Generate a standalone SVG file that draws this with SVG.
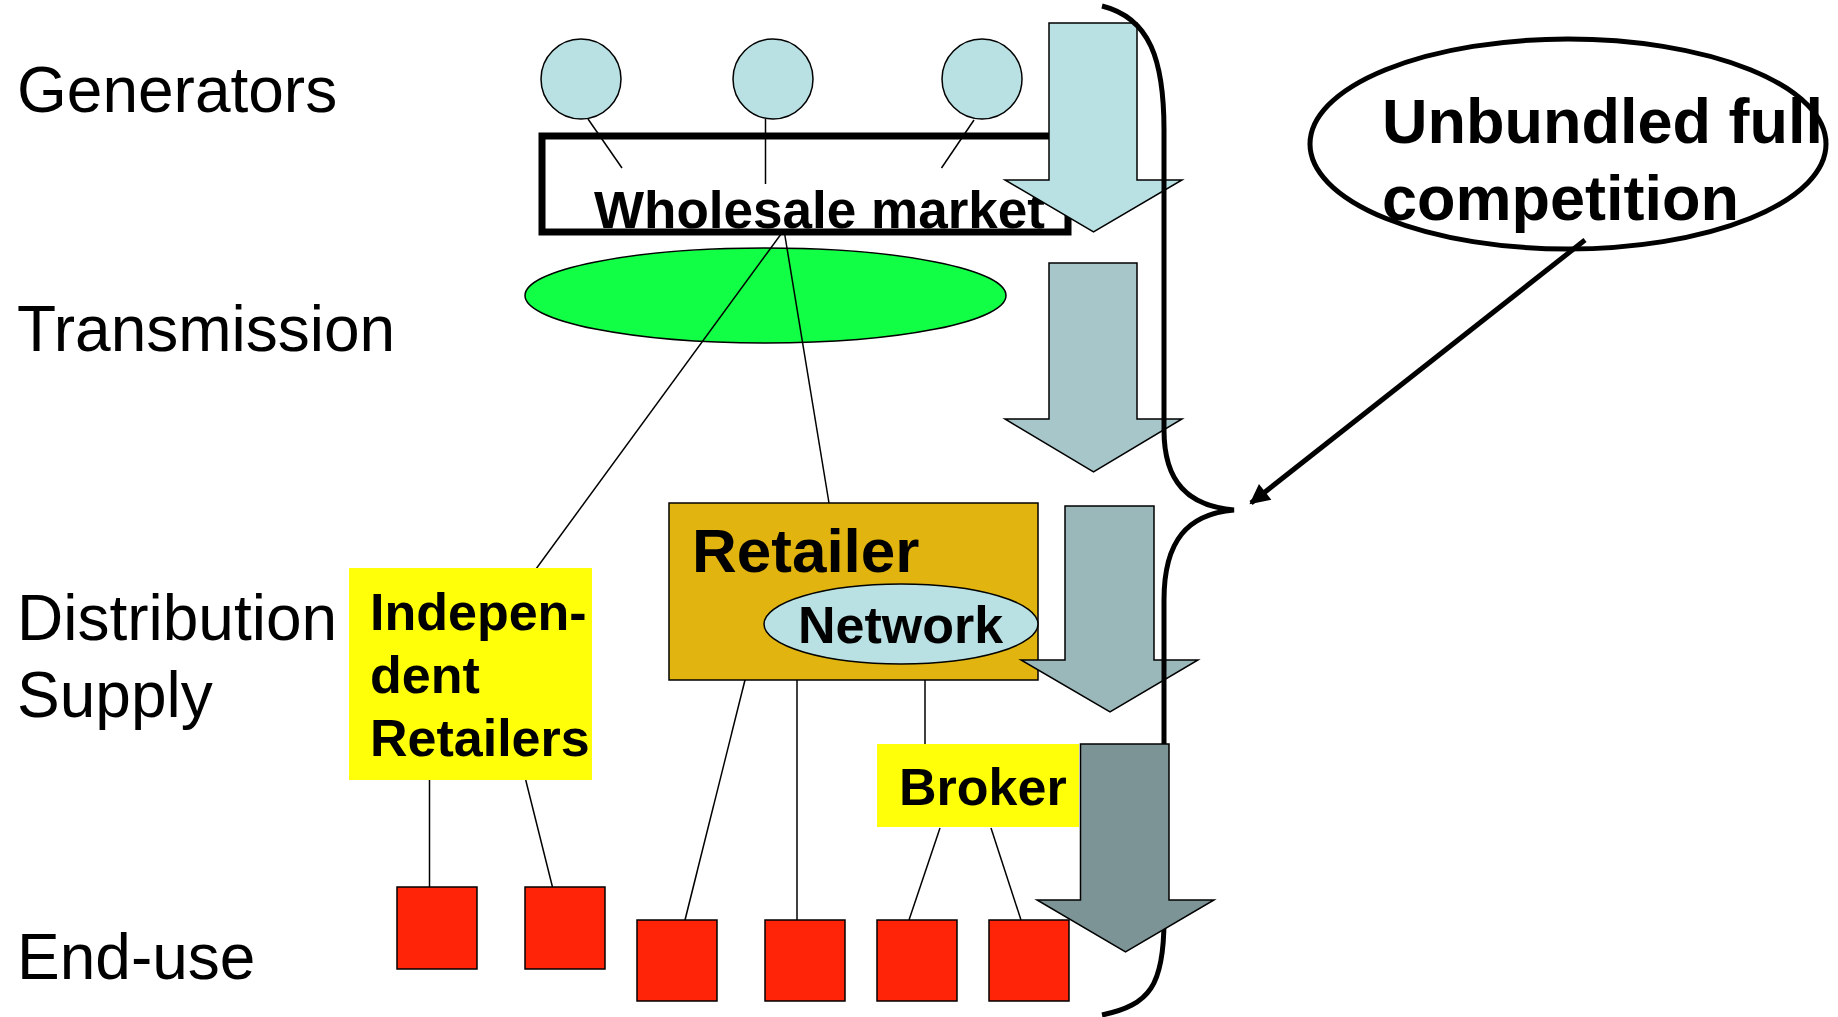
<svg xmlns="http://www.w3.org/2000/svg" width="1838" height="1017" viewBox="0 0 1838 1017">
<style>
.lbl{font-family:"Liberation Sans",Arial,sans-serif;font-size:64px;fill:#000}
.b{font-family:"Liberation Sans",Arial,sans-serif;font-weight:bold;fill:#000}
.ln{stroke:#000;stroke-width:1.5;fill:none}
.gen{fill:#b9e0e3;stroke:#000;stroke-width:1.5}
.eu{fill:#ff2308;stroke:#000;stroke-width:1.5}
.ylw{fill:#ffff0a}
.arr{stroke:#000;stroke-width:1.5}
</style>
<defs>
<marker id="ah" viewBox="0 0 10 10" refX="9" refY="5" markerWidth="4.5" markerHeight="4" orient="auto" markerUnits="strokeWidth">
<path d="M0,0 L10,5 L0,10 z" fill="#000"/>
</marker>
</defs>
<rect width="1838" height="1017" fill="#fff"/>
<g id="labels">
<text class="lbl" x="17" y="112">Generators</text>
<text class="lbl" x="17" y="351">Transmission</text>
<text class="lbl" x="17" y="640">Distribution</text>
<text class="lbl" x="17" y="717">Supply</text>
<text class="lbl" x="17" y="979">End-use</text>
</g>
<g id="transmission"><ellipse cx="765.5" cy="295.5" rx="240.5" ry="47.5" fill="#11ff44" stroke="#000" stroke-width="1.5"/></g>
<g id="connectors">
<line class="ln" x1="588" y1="119" x2="622" y2="168"/>
<line class="ln" x1="765.5" y1="119" x2="765.5" y2="184"/>
<line class="ln" x1="974" y1="120" x2="941.5" y2="168"/>
<line class="ln" x1="784" y1="230" x2="525" y2="584"/>
<line class="ln" x1="784" y1="230" x2="829" y2="503"/>
<line class="ln" x1="749" y1="664" x2="685" y2="920"/>
<line class="ln" x1="797" y1="680" x2="797" y2="920"/>
<line class="ln" x1="925" y1="664" x2="925" y2="744"/>
<line class="ln" x1="429.5" y1="780" x2="429.5" y2="887"/>
<line class="ln" x1="525.7" y1="780" x2="557" y2="905"/>
<line class="ln" x1="940" y1="828" x2="909" y2="920"/>
<line class="ln" x1="991" y1="828" x2="1021" y2="920"/>
</g>
<g id="wholesale">
<rect x="542" y="136" width="526" height="96" fill="none" stroke="#000" stroke-width="7"/>
<text class="b" x="594" y="228" font-size="51" textLength="451" lengthAdjust="spacingAndGlyphs">Wholesale market</text>
</g>
<g id="gen1"><circle class="gen" cx="581" cy="79" r="40"/></g>
<g id="gen2"><circle class="gen" cx="773" cy="79" r="40"/></g>
<g id="gen3"><circle class="gen" cx="982" cy="79" r="40"/></g>
<g id="retailer">
<rect x="669" y="503" width="369" height="177" fill="#e1b40f" stroke="#000" stroke-width="1.5"/>
<text class="b" x="692" y="572" font-size="62">Retailer</text>
</g>
<g id="network">
<ellipse cx="901" cy="624" rx="137" ry="40" fill="#b9e0e3" stroke="#000" stroke-width="1.5"/>
<text class="b" x="798" y="643" font-size="52">Network</text>
</g>
<g id="independent">
<rect class="ylw" x="349" y="568" width="243" height="212"/>
<text class="b" x="370" y="630" font-size="52">Indepen-</text>
<text class="b" x="370" y="693" font-size="52">dent</text>
<text class="b" x="370" y="756" font-size="52">Retailers</text>
</g>
<g id="broker">
<rect class="ylw" x="877" y="744" width="202" height="83"/>
<text class="b" x="899" y="805" font-size="52">Broker</text>
</g>
<g id="enduse">
<rect class="eu" x="397" y="887" width="80" height="82"/>
<rect class="eu" x="525" y="887" width="80" height="82"/>
<rect class="eu" x="637" y="920" width="80" height="81"/>
<rect class="eu" x="765" y="920" width="80" height="81"/>
<rect class="eu" x="877" y="920" width="80" height="81"/>
<rect class="eu" x="989" y="920" width="80" height="81"/>
</g>
<g id="arrow1"><path class="arr" fill="#b9e0e3" d="M1049,23 L1137,23 L1137,180 L1182,180 L1093.5,232 L1005,180 L1049,180 Z"/></g>
<g id="arrow2"><path class="arr" fill="#a7c6c9" d="M1049,263 L1137,263 L1137,419 L1182,419 L1093.5,472 L1005,419 L1049,419 Z"/></g>
<g id="arrow3"><path class="arr" fill="#9ab7ba" d="M1065,506 L1154,506 L1154,660 L1198,660 L1110,712 L1021,660 L1065,660 Z"/></g>
<g id="brace"><path d="M1102,6 C1150,18 1164,60 1164,130 L1164,430 C1164,482 1188,506 1234,510 C1188,514 1164,540 1164,600 L1164,920 C1164,985 1150,1005 1102,1015" fill="none" stroke="#000" stroke-width="5"/></g>
<g id="arrow4"><path class="arr" fill="#7c9496" d="M1080.5,744 L1169,744 L1169,900 L1214,900 L1125.5,952 L1037,900 L1080.5,900 Z"/></g>
<g id="unbundled">
<ellipse cx="1568" cy="144" rx="258" ry="105" fill="none" stroke="#000" stroke-width="5"/>
<text class="b" x="1382" y="143" font-size="63">Unbundled full</text>
<text class="b" x="1382" y="220" font-size="63">competition</text>
</g>
<g id="pointer"><line x1="1585" y1="240" x2="1251" y2="503" stroke="#000" stroke-width="5" marker-end="url(#ah)"/></g>
</svg>
